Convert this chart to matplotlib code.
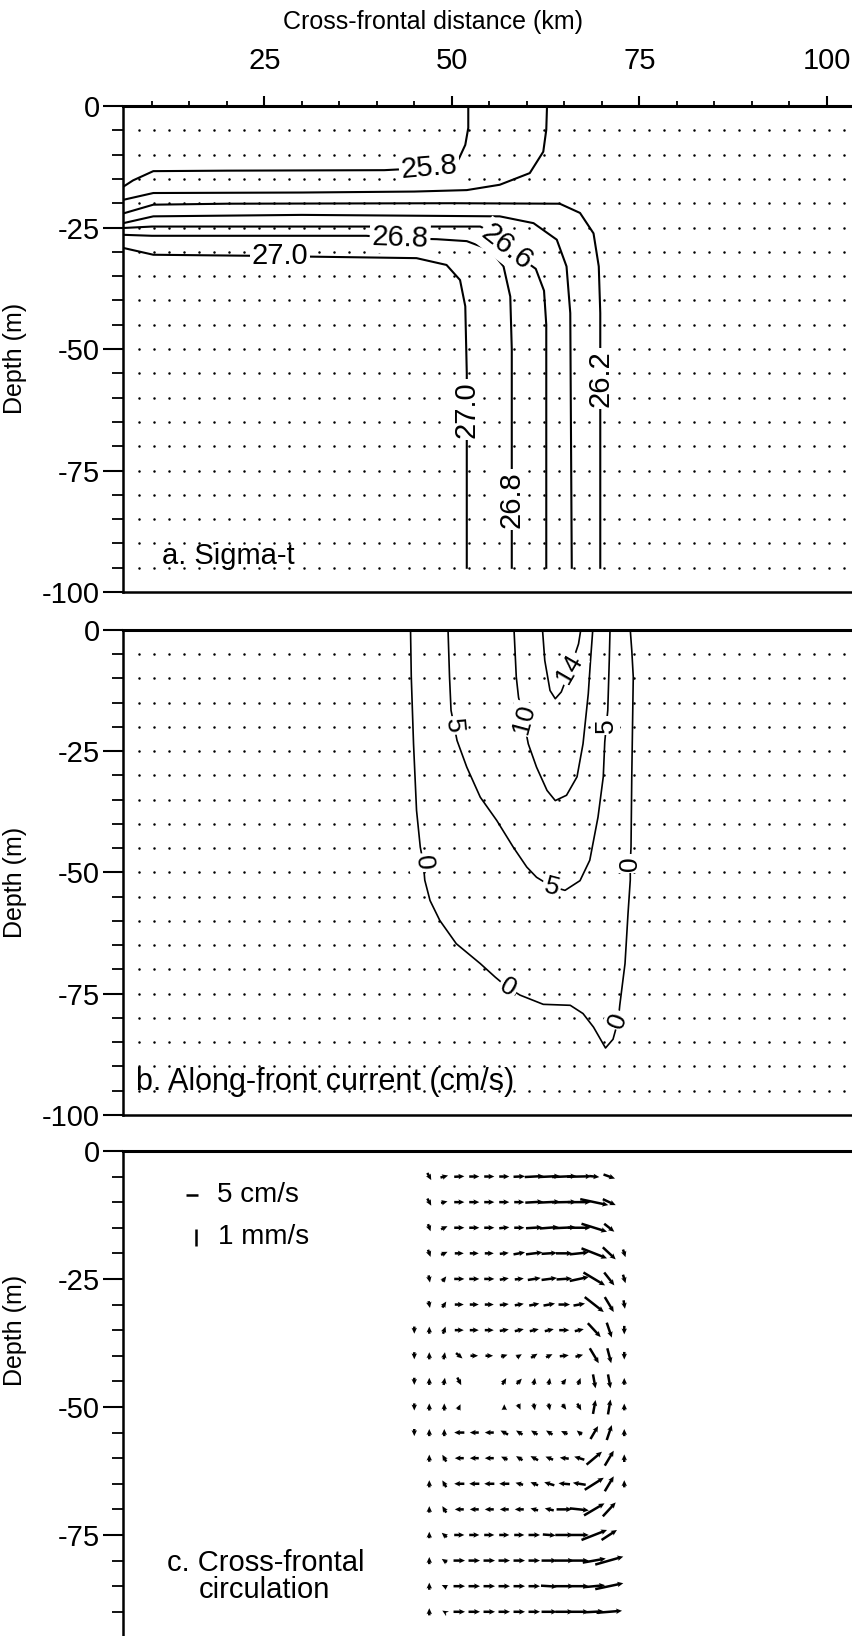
import numpy as np
import matplotlib
matplotlib.use("Agg")
import matplotlib.pyplot as plt
from matplotlib.ticker import MultipleLocator, FixedLocator

plt.rcParams["font.family"] = ["Liberation Sans", "DejaVu Sans"]
plt.rcParams["axes.unicode_minus"] = False

X_LEFT, X_RIGHT = 6.16, 103.5

# a. sigma-t isolines, (km, depth m) vertices
SIGMA_258 = [(6.2, -16.6), (7.5, -15.3), (10.2, -13.4), (20, -13.3), (41, -13.2),
             (46, -12.8), (49.5, -12.0), (50.9, -11.0), (51.8, -8.0), (52.2, -4.5), (52.2, 0)]
SIGMA_260 = [(6.2, -19.3), (10.2, -17.9), (30, -17.8), (45, -17.6), (52, -17.3),
             (56.4, -16.2), (60.4, -13.8), (62.2, -9.4), (62.6, -4.9), (62.7, 0)]
SIGMA_262 = [(6.2, -22.1), (10.2, -20.3), (20, -20.1), (50, -20.0), (64.4, -20.1),
             (67.1, -22.0), (68.9, -26.2), (69.6, -33), (69.8, -42.6), (69.8, -95)]
SIGMA_264 = [(6.2, -24.1), (10.2, -22.7), (30, -22.4), (56.4, -22.7), (60.9, -24.1),
             (64, -27.5), (65.3, -33), (65.8, -42.6), (66.0, -95)]
SIGMA_266 = [(6.2, -25.1), (10, -24.8), (53.8, -24.8), (56, -26.5), (58.5, -30.5),
             (61.2, -33.5), (62.3, -38), (62.6, -45), (62.6, -95)]
SIGMA_268 = [(6.2, -26.5), (10, -26.7), (38.6, -26.7), (43, -27.2), (48, -27.4),
             (52, -27.8), (55.1, -29.6), (56.9, -33), (57.8, -39.2), (58.0, -50), (58.0, -95)]
SIGMA_270 = [(6.2, -29.2), (10.2, -30.6), (22.6, -30.8), (45.3, -31.3), (49.3, -32.7),
             (51.1, -35.8), (51.8, -41.2), (52.0, -55), (52.0, -95)]
SIGMA_LINES = [SIGMA_258, SIGMA_260, SIGMA_262, SIGMA_264, SIGMA_266, SIGMA_268, SIGMA_270]
SIGMA_LABELS = [("25.8", 47.0, -12.6, 5), ("26.8", 43.1, -27.2, -2), ("26.6", 57.3, -29.0, -38),
                ("27.0", 27.1, -30.8, 0), ("27.0", 52.0, -62.5, 90), ("26.8", 58.0, -81, 90),
                ("26.2", 69.8, -56, 90)]

# b. along-front current isotachs (cm/s)
SPEED_0 = [(44.5, 0), (44.6, -9.7), (44.9, -23.5), (45.3, -37.2), (45.8, -44.8), (46.2, -48),
           (46.4, -51.6), (47.1, -55.8), (48.4, -59.9), (50.6, -64.7), (53.8, -68.8),
           (55.8, -71.6), (57.5, -73.8), (59.1, -75.3), (62.2, -77.2), (65.8, -77.4),
           (67.5, -79.1), (68.9, -81.9), (70.5, -86.2), (71.5, -84.4), (72.2, -80.5),
           (72.4, -77.4), (73.1, -68.8), (73.5, -58.5), (73.8, -51.6), (73.8, -48.2),
           (73.9, -44.8), (74.0, -30.3), (74.2, -9.7), (74.0, -4.2), (73.8, 0)]
SPEED_5 = [(49.5, 0), (49.7, -9.7), (49.9, -16.6), (50.3, -19.7), (50.7, -22.8), (52.0, -28.3),
           (53.8, -34.5), (56.0, -39.3), (58.2, -44.8), (60.0, -48.9), (61.3, -51.0),
           (63.3, -52.9), (65.1, -53.7), (67.1, -51.7), (68.4, -47.5), (69.5, -38.6),
           (70.2, -30.3), (70.4, -23.1), (70.6, -19.8), (70.8, -16.6), (71.0, -6.3), (71.1, 0)]
SPEED_10 = [(58.3, 0), (58.6, -9.7), (58.9, -13.9), (59.5, -18.0), (60.2, -23.5), (61.3, -28.3),
            (62.7, -33.1), (63.8, -35.2), (65.3, -34.1), (66.7, -30.3), (67.5, -23.5),
            (68.2, -13.2), (68.5, -6.3), (68.8, 0)]
SPEED_14 = [(62.1, 0), (62.4, -6.3), (63.1, -12.5), (63.8, -14.2), (64.6, -12.8),
            (65.8, -8.0), (66.9, -2.9), (67.2, 0)]
SPEED_LINES = [SPEED_0, SPEED_5, SPEED_10, SPEED_14]
SPEED_LABELS = [("0", 46.2, -48, -85), ("0", 57.5, -73.8, -30), ("0", 72.2, -80.5, 70),
                ("0", 73.8, -48.2, 90), ("5", 50.3, -19.7, -85), ("5", 63.3, -53.0, -15),
                ("5", 70.6, -19.8, 90), ("10", 59.6, -18.3, 75), ("14", 65.7, -8.0, 60)]

# c. cross-frontal circulation: u in cm/s, w in mm/s
COLS_KM = [45, 47, 49, 51, 53, 55, 57, 59, 61, 63, 65, 67, 69, 71, 73]
ROWS_M = [-5, -10, -15, -20, -25, -30, -35, -40, -45, -50, -55, -60, -65, -70, -75, -80, -85, -90]
nan = np.nan
U_CMS = [
    [nan, 1.7, 3.3, 4.4, 4.4, 4.4, 4.4, 5.0, 8.3, 9.4, 10.6, 10.6, 4.4, 5.0, nan],
    [nan, 1.7, 2.8, 4.4, 4.4, 4.4, 4.4, 4.4, 7.8, 9.4, 10.6, 10.0, 12.2, 5.6, nan],
    [nan, 1.1, 2.8, 4.4, 4.4, 4.4, 4.4, 4.4, 7.2, 8.3, 10.0, 10.0, 11.1, 4.4, nan],
    [nan, 1.1, 2.8, 3.9, 3.9, 3.9, 3.9, 5.0, 7.2, 6.7, 7.2, 8.3, 11.1, 5.6, 1.1],
    [nan, 0.6, 1.7, 4.4, 4.4, 4.4, 3.9, 3.9, 5.6, 6.7, 6.7, 8.3, 9.4, 4.4, 1.1],
    [nan, 0.6, 1.7, 3.9, 3.9, 3.9, 3.9, 3.9, 4.4, 5.0, 5.0, 5.0, 8.3, 3.9, 0.6],
    [0.0, 0.0, 1.1, 3.9, 3.9, 3.9, 3.9, 3.9, 3.9, 3.9, 4.4, 3.9, 5.6, 2.2, 0.0],
    [0.0, 0.0, 0.6, 2.8, 3.3, 3.3, 2.8, 2.2, 2.8, 2.8, 3.9, 3.3, 3.9, 1.7, 0.0],
    [0.0, 0.0, 0.6, 1.7, nan, nan, 1.7, 2.2, 0.6, 0.6, 1.7, 1.1, 1.1, 1.1, 0.0],
    [0.0, 0.0, 0.0, 1.1, nan, nan, 0.0, 1.1, 0.6, 0.6, 1.7, 1.7, 1.1, 1.1, 0.0],
    [0.0, 0.0, 0.0, -4.4, -3.9, -3.9, -3.3, -2.8, -2.8, -2.8, -2.8, -2.2, 3.3, 2.2, 0.0],
    [nan, 0.0, -1.7, -3.9, -3.9, -3.9, -2.8, -2.8, -3.3, -3.3, -3.9, -4.4, 6.7, 3.9, 0.0],
    [nan, 0.0, -1.7, -4.4, -4.4, -4.4, -4.4, -3.3, -3.3, -4.4, -5.0, -5.6, 8.3, 3.9, 0.0],
    [nan, 0.0, -1.7, -3.9, -3.9, -3.9, -3.9, -3.9, -3.3, -3.9, 6.7, 8.3, 8.9, 5.6, nan],
    [nan, 0.0, -2.2, 4.4, 4.4, 4.4, 4.4, 4.4, 5.0, 5.6, 7.8, 8.3, 11.1, 6.7, nan],
    [nan, 0.0, -2.2, 5.0, 5.0, 5.0, 5.0, 5.0, 5.0, 6.7, 8.3, 8.3, 10.0, 12.2, nan],
    [nan, 0.0, -2.2, 5.0, 5.0, 5.0, 5.0, 5.0, 5.0, 7.2, 8.3, 8.3, 9.4, 12.2, nan],
    [nan, 0.0, -1.7, 5.0, 5.0, 5.0, 5.0, 5.0, 5.0, 6.7, 7.8, 8.3, 8.3, 11.1, nan],
]
W_MMS = [
    [nan, -0.42, 0.12, 0.03, 0, 0, 0, 0.03, 0.06, 0.06, 0.06, 0.03, -0.06, -0.24, nan],
    [nan, -0.42, 0.09, 0, 0, 0, 0, 0, 0.06, 0.06, 0.03, 0, -0.35, -0.35, nan],
    [nan, -0.42, 0.18, 0, 0, 0, 0.06, 0, 0.06, 0.09, 0.06, 0, -0.47, -0.47, nan],
    [nan, -0.42, 0.18, 0, 0, 0, 0.06, 0.12, 0.12, 0.06, 0, 0.12, -0.59, -0.71, -0.45],
    [nan, -0.42, 0.3, 0, 0, 0, 0.09, 0.06, 0.12, 0.12, 0.06, 0.24, -0.76, -0.76, -0.5],
    [nan, -0.4, 0.35, 0, 0, 0, 0.06, 0.09, 0.12, 0.12, 0, 0.12, -0.88, -0.88, -0.5],
    [-0.42, 0.42, 0.42, 0, 0, 0, 0.09, 0.12, 0.12, 0.12, 0, 0.12, -0.82, -0.88, -0.5],
    [-0.42, 0.42, 0.42, -0.32, 0, 0, 0.12, 0.18, 0.24, 0.18, 0.06, 0.12, -0.88, -0.88, -0.45],
    [-0.42, 0.42, 0.42, -0.45, nan, nan, 0.38, 0.32, 0.4, 0.4, 0.32, 0.4, -0.82, -0.82, 0.4],
    [-0.42, 0.42, 0.42, 0.32, nan, nan, 0.32, -0.32, -0.4, -0.4, -0.32, -0.4, 0.82, 0.88, 0.4],
    [-0.42, 0.42, 0.42, 0, 0, 0, 0.24, 0.24, 0.24, 0.24, 0.18, 0.24, 0.76, 0.88, 0.42],
    [nan, 0.42, 0.4, 0, 0, 0, 0.18, 0.24, 0.24, 0.18, 0.06, 0.18, 0.76, 0.88, 0.45],
    [nan, 0.42, 0.4, 0, 0, 0, 0, 0.12, 0.18, 0.18, 0.06, 0.12, 0.71, 0.88, 0.42],
    [nan, 0.38, 0.38, 0, 0, 0, 0, 0, 0.12, 0.12, 0, -0.12, 0.71, 0.82, nan],
    [nan, 0.38, 0.26, 0, 0, 0, 0, 0, 0, -0.06, 0, 0, 0.59, 0.59, nan],
    [nan, 0.42, 0.2, 0, 0, 0, 0, 0, 0, 0, 0, 0, 0.24, 0.47, nan],
    [nan, 0.42, 0.14, 0, 0, 0, 0, 0, 0, -0.06, 0, 0, 0.12, 0.35, nan],
    [nan, 0.42, 0.14, 0, 0, 0, 0, 0, 0, 0, 0, 0, 0.06, 0.12, nan],
]
KEY_U_CMS = 5
KEY_W_MMS = 1
PX_PER_CMS = 11.5 / 5   # horizontal scale: 5 cm/s drawn ~11 px
PX_PER_MMS = 17         # vertical scale: 1 mm/s drawn 17 px


def style_panel(ax):
    ax.set_xlim(X_LEFT, X_RIGHT)
    ax.set_ylim(-100, 0)
    ax.spines["right"].set_visible(False)
    ax.spines["left"].set_linewidth(1.8)
    ax.spines["bottom"].set_linewidth(1.8)
    ax.spines["top"].set_linewidth(2.2)
    ax.yaxis.set_major_locator(MultipleLocator(25))
    ax.yaxis.set_minor_locator(MultipleLocator(5))
    ax.tick_params(axis="y", which="major", length=14.4, width=1.5, pad=2, labelsize=21)
    ax.tick_params(axis="y", which="minor", length=8, width=1.3)
    ax.tick_params(axis="x", which="both", bottom=False, top=False,
                   labelbottom=False, labeltop=False)
    ax.set_ylabel("Depth (m)", fontsize=18)


def add_dots(ax):
    gx, gz = np.meshgrid(np.arange(8.3, X_RIGHT, 2), np.arange(-95, -4, 5))
    ax.plot(gx.ravel(), gz.ravel(), linestyle="none", marker="o", markersize=1.8,
            markeredgewidth=0, color="k")


def draw_lines(ax, lines, labels, lw, size):
    for pts in lines:
        xs, zs = zip(*pts)
        ax.plot(xs, zs, color="k", lw=lw)
    for text, x, z, rot in labels:
        ax.text(x, z, text, rotation=rot, rotation_mode="anchor", ha="center", va="center",
                fontsize=size, bbox=dict(facecolor="white", edgecolor="none", pad=1.5))


fig = plt.figure(figsize=(8.53, 16.36), dpi=100)
ax_a = fig.add_axes([0.1442, 0.6381, 0.8558, 0.2971])
ax_b = fig.add_axes([0.1442, 0.3185, 0.8558, 0.2965])
ax_c = fig.add_axes([0.1442, -0.0165, 0.8558, 0.3130])

for ax in (ax_a, ax_b, ax_c):
    style_panel(ax)
ax_a.yaxis.set_label_coords(-0.1315, 0.48)
ax_b.yaxis.set_label_coords(-0.1315, 0.48)
ax_c.yaxis.set_label_coords(-0.1315, 0.65)
ax_c.yaxis.set_major_locator(FixedLocator([0, -25, -50, -75]))

# top distance axis on panel a
ax_a.xaxis.set_major_locator(FixedLocator([25, 50, 75, 100]))
ax_a.xaxis.set_minor_locator(MultipleLocator(5))
ax_a.tick_params(axis="x", which="major", top=True, labeltop=True, direction="out",
                 length=7.2, width=1.5, pad=15, labelsize=21)
ax_a.tick_params(axis="x", which="minor", top=True, direction="out", length=3.8, width=1.3)
fig.text(433 / 853, 1 - 22 / 1636, "Cross-frontal distance (km)", ha="center",
         va="center", fontsize=18)

# panel a
add_dots(ax_a)
draw_lines(ax_a, SIGMA_LINES, SIGMA_LABELS, 1.5, 21)
ax_a.text(11.4, -92.6, "a. Sigma-t", fontsize=21, va="center")

# panel b
add_dots(ax_b)
draw_lines(ax_b, SPEED_LINES, SPEED_LABELS, 1.2, 19)
ax_b.text(7.85, -93.2, "b. Along-front current (cm/s)", fontsize=22, va="center")

# panel c
X, Z = np.meshgrid(COLS_KM, ROWS_M)
U = np.ma.masked_invalid(np.array(U_CMS, float) * PX_PER_CMS)
V = np.ma.masked_invalid(np.array(W_MMS, float) * PX_PER_MMS)
ax_c.quiver(X, Z, U, V, angles="uv", scale_units="dots", scale=1, units="dots",
            width=2.5, headwidth=2.2, headlength=2.4, headaxislength=2.1,
            minshaft=0.5, pivot="middle", color="k", minlength=0)

# scale keys drawn as bars whose length follows the arrow scale
ax_c.plot([15.4], [-8.6], marker="_", markersize=KEY_U_CMS * PX_PER_CMS * 0.72,
          markeredgewidth=1.8, color="k", linestyle="none")
ax_c.plot([15.9], [-16.8], marker="|", markersize=KEY_W_MMS * PX_PER_MMS * 0.72,
          markeredgewidth=1.8, color="k", linestyle="none")
ax_c.text(18.7, -8.6, "5 cm/s", fontsize=20, va="center")
ax_c.text(18.85, -16.8, "1 mm/s", fontsize=20, va="center")
ax_c.text(12.0, -80.5, "c. Cross-frontal", fontsize=21, va="center")
ax_c.text(16.3, -85.8, "circulation", fontsize=21, va="center")

fig.savefig("out.png", dpi=100)
